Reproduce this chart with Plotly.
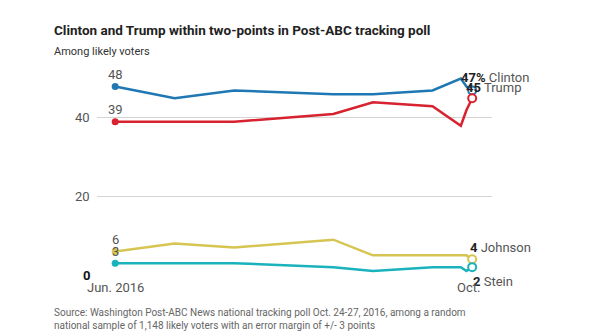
import plotly.graph_objects as go

# Post-ABC poll dates and candidate support among likely voters (%)
dates = ["2016-06-23", "2016-07-14", "2016-08-04", "2016-09-08", "2016-09-22",
         "2016-10-13", "2016-10-23", "2016-10-25", "2016-10-27"]
clinton = [48, 45, 47, 46, 46, 47, 50, 48, 47]
trump = [39, 39, 39, 41, 44, 43, 38, 42, 45]
johnson = [6, 8, 7, 9, 5, 5, 5, 5, 4]
stein = [3, 3, 3, 2, 1, 2, 2, 1, 2]

names = ["Clinton", "Trump", "Johnson", "Stein"]
series = [clinton, trump, johnson, stein]
colors = ["#1f77b4", "#d7222f", "#d6c552", "#19b2bd"]

y_ticks = [0, 20, 40]
y_ticktext = ["<b>0</b>", "20", "40"]
x_ticks = [dates[0], dates[-1]]
x_ticktext = ["Jun. 2016", "Oct."]

FONT = "Roboto, sans-serif"

# plot-area geometry in pixels (used to place page-level text)
L, R, T, B = 97, 108, 59, 61
W, H = 600, 336
PW, PH = W - L - R, H - T - B


def px(xp):
    return (xp - L) / PW


def py(yp):
    return (H - B - yp) / PH


fig = go.Figure()
for name, vals, col in zip(names, series, colors):
    fig.add_trace(go.Scatter(
        x=dates, y=vals, mode="lines", name=name,
        line=dict(color=col, width=2.5), cliponaxis=False, hoverinfo="skip"))
    # filled dot at the first poll, open dot at the latest
    fig.add_trace(go.Scatter(
        x=[dates[0]], y=[vals[0]], mode="markers", cliponaxis=False,
        marker=dict(color=col, size=7), hoverinfo="skip"))
    fig.add_trace(go.Scatter(
        x=[dates[-1]], y=[vals[-1]], mode="markers", cliponaxis=False,
        marker=dict(color="white", size=8, line=dict(color=col, width=2)),
        hoverinfo="skip"))

ann = []
# starting values above the first points
for vals in series:
    ann.append(dict(x=dates[0], y=vals[0], xref="x", yref="y", text=str(vals[0]),
                    showarrow=False, yshift=12,
                    font=dict(family=FONT, size=13, color="#555")))

# end labels: bold value + candidate name
end_labels = [
    (clinton[-1], "%", "Clinton", -13, 13),
    (trump[-1], "", "Trump", -8, 11),
    (johnson[-1], "", "Johnson", -4, 12),
    (stein[-1], "", "Stein", -1, -14),
]
for val, suffix, nm, xs, ys in end_labels:
    ann.append(dict(x=dates[-1], y=val, xref="x", yref="y",
                    text=f"<b><span style='color:#222'>{val}{suffix}</span></b> {nm}",
                    showarrow=False, xanchor="left", xshift=xs, yshift=ys,
                    font=dict(family=FONT, size=13, color="#555")))

# x-axis date labels
for xv, txt in zip(x_ticks, x_ticktext):
    ann.append(dict(x=xv, y=0, xref="x", yref="y", text=txt, showarrow=False,
                    yshift=-12, xshift=-4 if txt == "Oct." else 0,
                    font=dict(family=FONT, size=13, color="#555")))

# y-axis tick labels
for yv, txt in zip(y_ticks, y_ticktext):
    ann.append(dict(x=0, y=yv, xref="paper", yref="y", text=txt, showarrow=False,
                    xanchor="right", xshift=-5,
                    font=dict(family=FONT, size=13,
                              color="#111" if yv == 0 else "#555")))

# title, subtitle and source note
ann.append(dict(x=px(52), y=py(30), xref="paper", yref="paper",
                xanchor="left", yanchor="middle", showarrow=False,
                text="<b>Clinton and Trump within two-points in Post-ABC tracking poll</b>",
                font=dict(family=FONT, size=13.5, color="#222")))
ann.append(dict(x=px(52), y=py(52), xref="paper", yref="paper",
                xanchor="left", yanchor="middle", showarrow=False,
                text="Among likely voters",
                font=dict(family=FONT, size=11, color="#333")))
ann.append(dict(x=px(52), y=py(319), xref="paper", yref="paper",
                xanchor="left", yanchor="middle", showarrow=False, align="left",
                text="Source: Washington Post-ABC News national tracking poll Oct. 24-27, 2016, among a random<br>"
                     "national sample of 1,148 likely voters with an error margin of +/- 3 points",
                font=dict(family=FONT, size=10, color="#666")))

fig.update_layout(
    annotations=ann,
    width=W, height=H,
    margin=dict(l=L, r=R, t=T, b=B),
    paper_bgcolor="white", plot_bgcolor="white",
    showlegend=False,
    xaxis=dict(type="date", range=["2016-06-16 14:00", "2016-11-03"],
               showgrid=False, zeroline=False, showticklabels=False, ticks=""),
    yaxis=dict(range=[0, 55], tickvals=y_ticks, showticklabels=False,
               showgrid=True, gridcolor="#d4d4d4", gridwidth=1, zeroline=False,
               ticks=""),
)

fig.write_html("out.html")
